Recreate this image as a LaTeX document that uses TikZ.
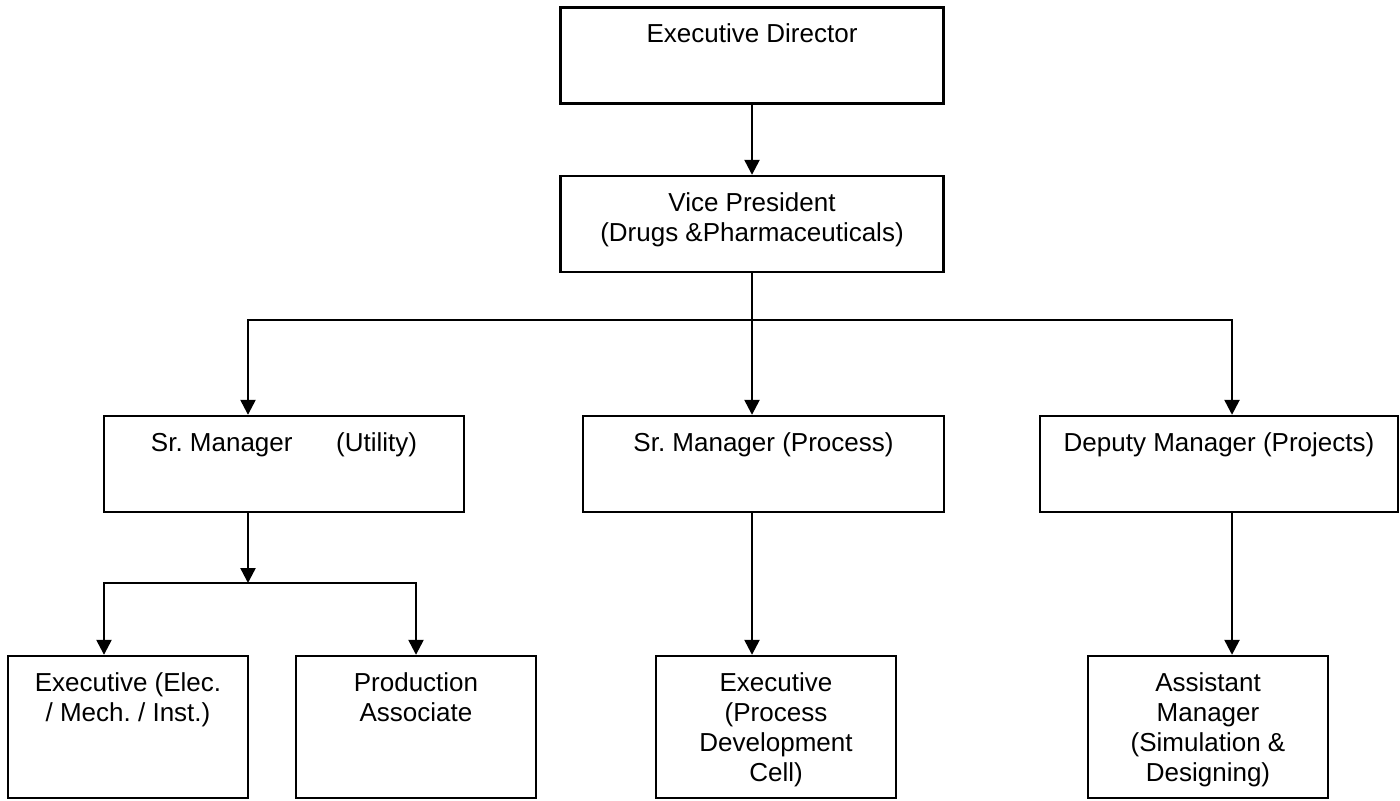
\documentclass[tikz,border=0pt]{standalone}
\usepackage{fontspec}
\setmainfont{Liberation Sans}
\usetikzlibrary{positioning, arrows.meta}
\frenchspacing
\tikzset{
  box/.style={draw, line width=1.2pt, inner sep=0, minimum height=48pt},
  lowbox/.style={box, minimum width=120pt, minimum height=71pt},
  boxtext/.style={anchor=north, inner sep=0, yshift=-8.7pt, align=center,
    font=\fontsize{13}{15}\selectfont},
  link/.style={-{Triangle[width=7.5pt,length=7.5pt]}, line width=1.2pt},
  plain/.style={line width=1.2pt, line cap=rect}
}

\begin{document}
\begin{tikzpicture}[x=0.5pt, y=-0.5pt]
\useasboundingbox (0,0) rectangle (1400,800);

% top of the chart
\node [box, minimum width=191.5pt, label={[boxtext]north:Executive Director}] (ed) at (752,55.5) {};
\node [box, minimum width=191.5pt, label={[boxtext]north:Vice President\\(Drugs \&Pharmaceuticals)}] (vp) at (752,224) {};

% managers
\node [box, minimum width=180pt, label={[boxtext]north:Sr. Manager\hspace{1.4em} (Utility)}] (smu) at (284,464) {};
\node [box, minimum width=180.5pt, label={[boxtext]north:Sr. Manager (Process)}] (smp) at (763.5,464) {};
\node [box, minimum width=179pt, label={[boxtext]north:Deputy Manager (Projects)}] (dm) at (1219,464) {};

% staff
\node [lowbox, label={[boxtext]north:Executive (Elec.\\/ Mech. / Inst.)}] (ex) at (128,727) {};
\node [lowbox, label={[boxtext]north:Production\\Associate}] (pa) at (416,727) {};
\node [lowbox, label={[boxtext]north:Executive\\(Process\\Development\\Cell)}] (exp) at (776,727) {};
\node [lowbox, label={[boxtext]north:Assistant\\Manager\\(Simulation \&\\Designing)}] (am) at (1208,727) {};

\coordinate (jc) at (752,320);
\coordinate (jl) at (248,320);
\coordinate (jr) at (1232,320);
\coordinate (ju) at (248,583);
\coordinate (jul) at (104,583);
\coordinate (jur) at (416,583);

\draw[link] (ed.south) -- (vp.north);
\draw[plain] (vp.south) -- (jc);
\draw[plain] (jl) -- (jr);
\draw[link] (jl) -- (jl |- smu.north);
\draw[link] (jc) -- (jc |- smp.north);
\draw[link] (jr) -- (jr |- dm.north);

\draw[link] (jl |- smu.south) -- (ju);
\draw[plain] (jul) -- (jur);
\draw[link] (jul) -- (jul |- ex.north);
\draw[link] (jur) -- (pa.north);

\draw[link] (jc |- smp.south) -- (jc |- exp.north);
\draw[link] (jr |- dm.south) -- (jr |- am.north);

\end{tikzpicture}
\end{document}
